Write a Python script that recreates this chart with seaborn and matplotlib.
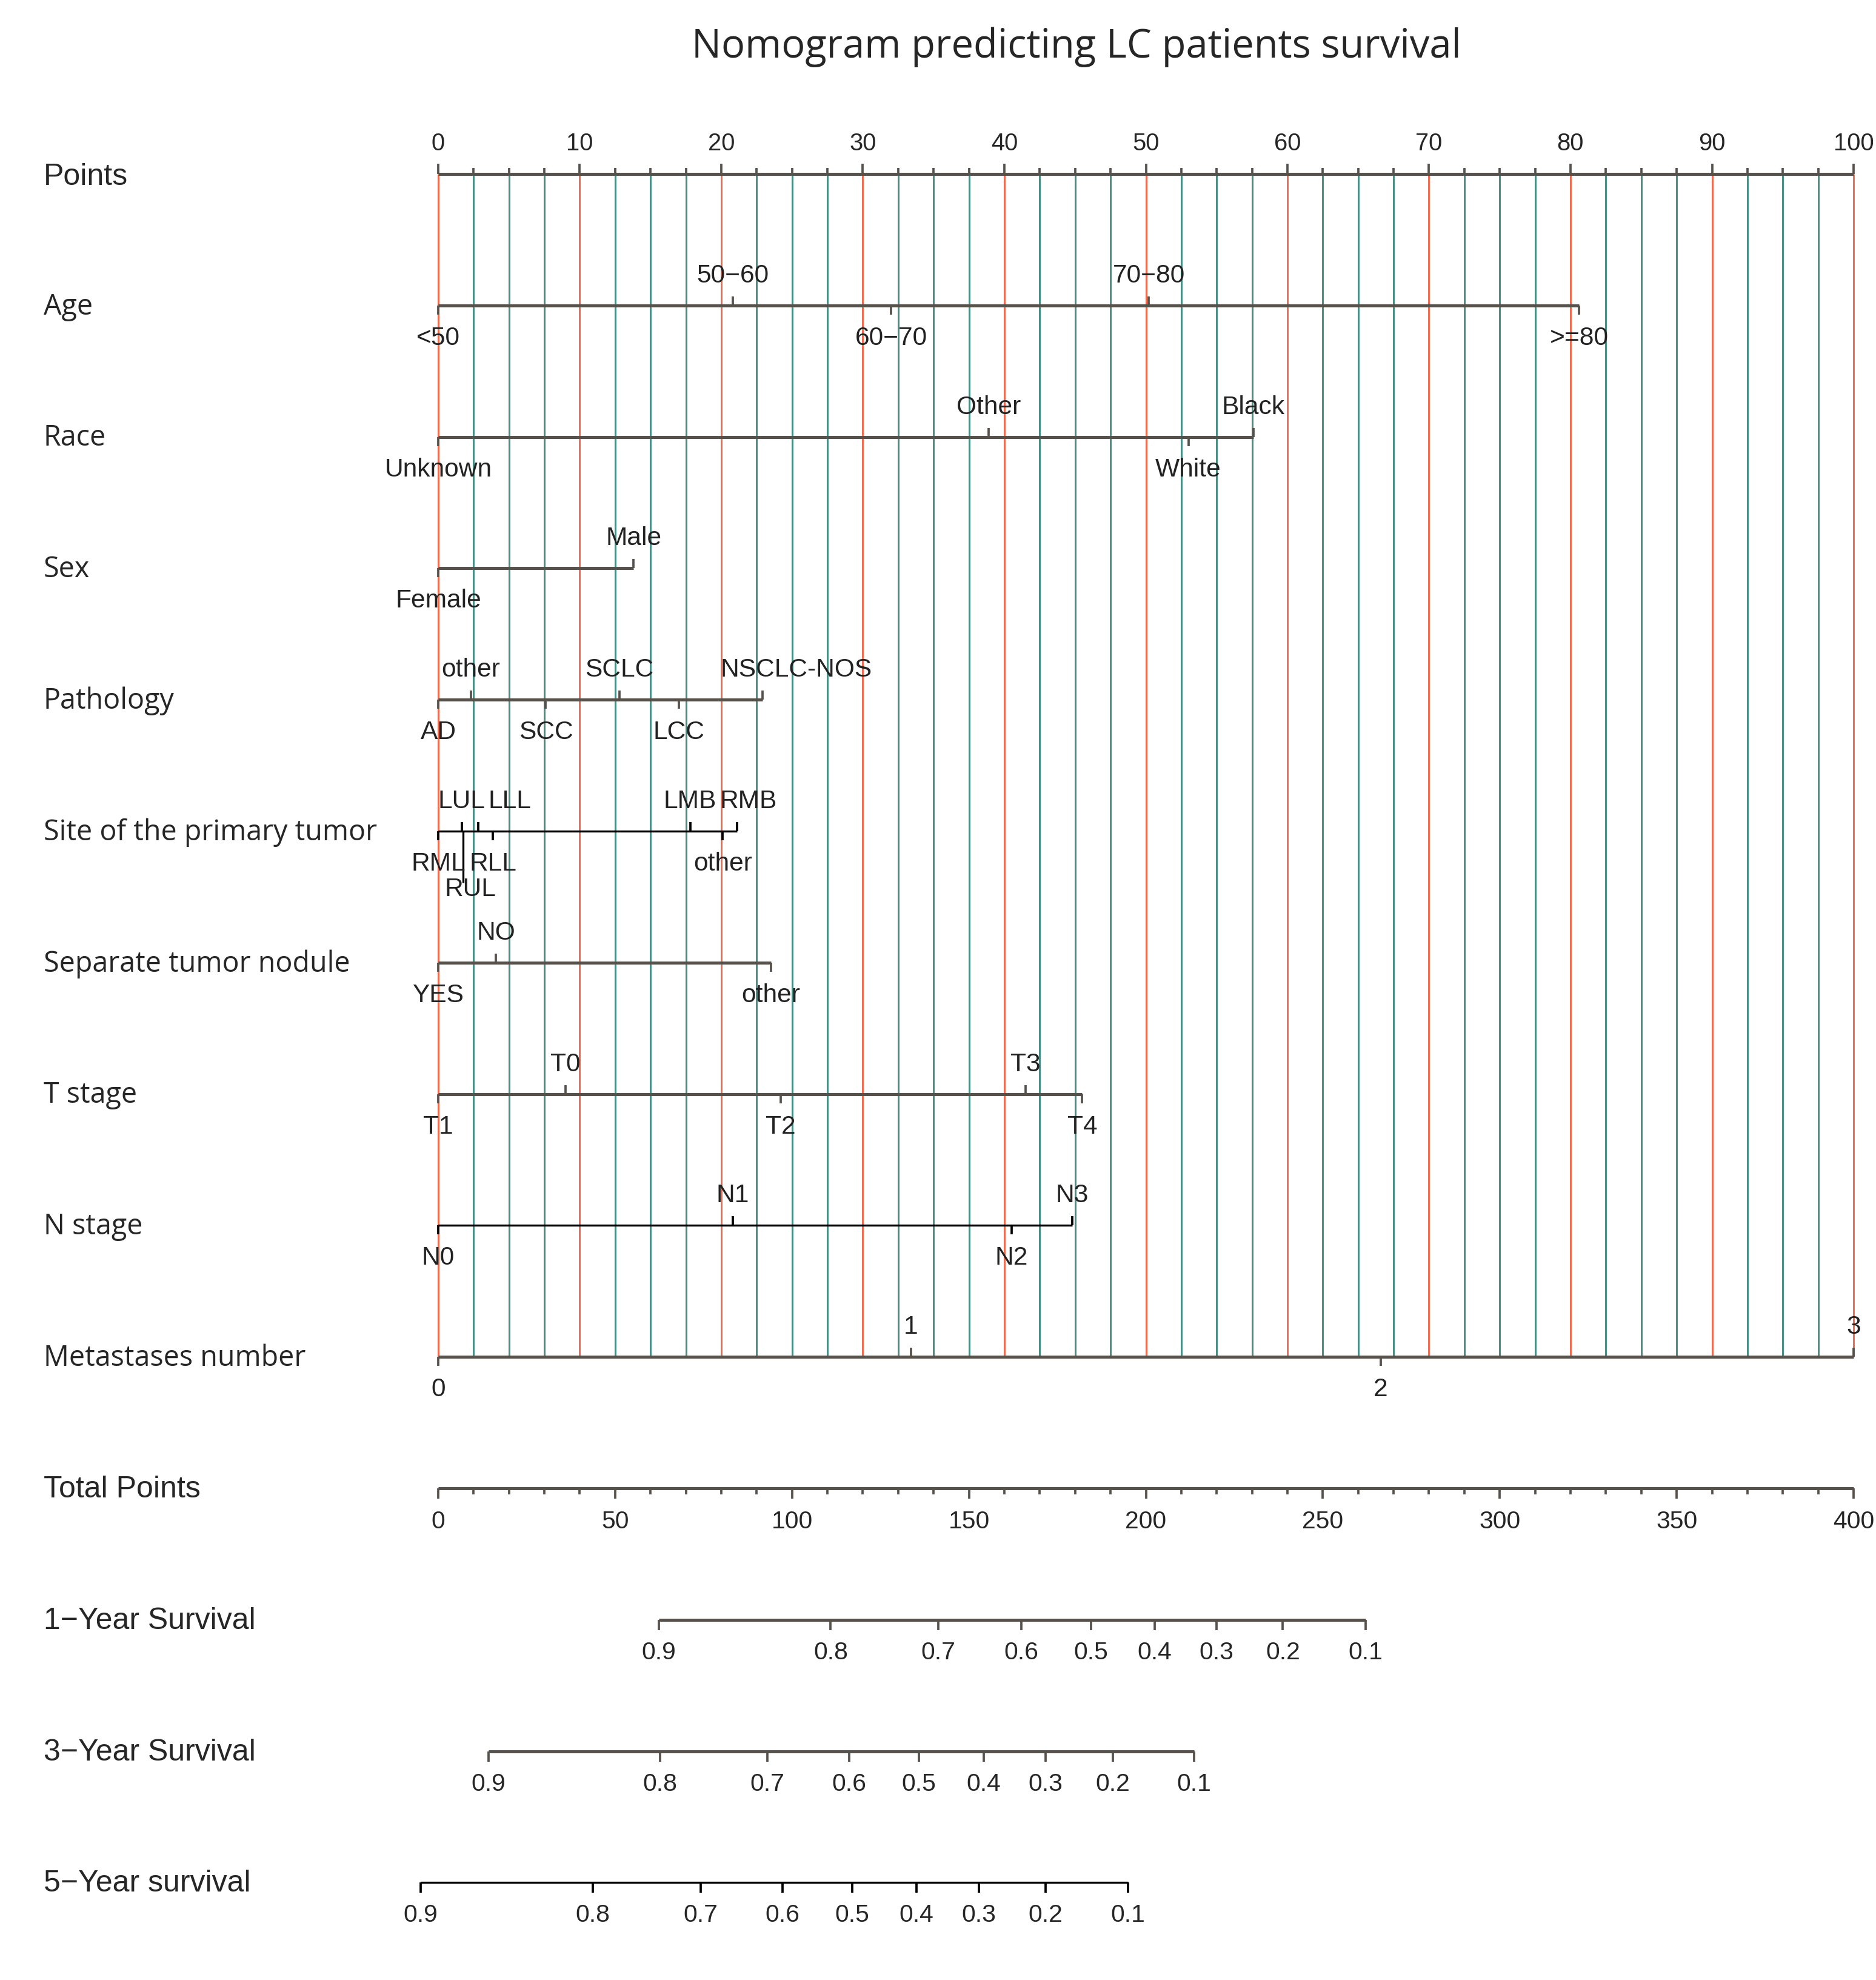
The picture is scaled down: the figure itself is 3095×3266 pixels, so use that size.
import numpy as np
import matplotlib.pyplot as plt
import seaborn as sns

# ---- data ----
title = 'Nomogram predicting LC patients survival'

points_ticks = [0, 10, 20, 30, 40, 50, 60, 70, 80, 90, 100]

age_levels = ['<50', '50\u221260', '60\u221270', '70\u221280', '>=80']
age_points = [0, 20.8, 32.0, 50.2, 80.6]

race_levels = ['Unknown', 'Other', 'White', 'Black']
race_points = [0, 38.9, 53.0, 57.6]

sex_levels = ['Female', 'Male']
sex_points = [0, 13.8]

path_levels = ['AD', 'other', 'SCC', 'SCLC', 'LCC', 'NSCLC-NOS']
path_points = [0, 2.3, 7.6, 12.8, 17.0, 22.9]

site_levels = ['RML', 'LUL', 'RUL', 'LLL', 'RLL', 'LMB', 'other', 'RMB']
site_points = [0, 1.65, 1.75, 2.83, 3.86, 17.8, 20.1, 21.1]

nodule_levels = ['YES', 'NO', 'other']
nodule_points = [0, 4.07, 23.5]

t_levels = ['T1', 'T0', 'T2', 'T3', 'T4']
t_points = [0, 9.0, 24.2, 41.5, 45.5]

n_levels = ['N0', 'N1', 'N2', 'N3']
n_points = [0, 20.8, 40.5, 44.8]

meta_levels = ['0', '1', '2', '3']
meta_points = [0, 33.4, 66.6, 100]

total_ticks = [0, 50, 100, 150, 200, 250, 300, 350, 400]

surv_ticks = ['0.9', '0.8', '0.7', '0.6', '0.5', '0.4', '0.3', '0.2', '0.1']
surv1_total = [62.3, 110.9, 141.3, 164.8, 184.5, 202.5, 219.9, 238.7, 262.1]
surv3_total = [14.2, 62.7, 93.0, 116.1, 135.8, 154.2, 171.6, 190.6, 213.6]
surv5_total = [-5.0, 43.7, 74.2, 97.3, 117.0, 135.2, 152.8, 171.6, 195.0]

# ---- layout (pixels of the 3095 x 3266 canvas) ----
W, H = 3095, 3266
X0, X100 = 723, 3058
PX = (X100 - X0) / 100.0
ROW0, ROWSTEP = 287, 216.8
UP, DOWN = 49, 54

sns.set_theme(style='white')
plt.rcParams['font.family'] = ['Liberation Sans', 'DejaVu Sans']

fig = plt.figure(figsize=(W / 300, H / 300), dpi=300)
ax = fig.add_axes([0, 0, 1, 1])
ax.set_xlim(-X0 / PX, 100 + (W - X100) / PX)
ax.set_ylim(H, 0)
ax.axis('off')

GREY = '#57514c'
RED = '#ee6a4e'
TEAL = '#458c82'

def row_y(i):
    return ROW0 + i * ROWSTEP

# vertical reference lines every 2.5 points
grid = np.arange(0, 100.01, 2.5)
for g in grid:
    is_major = abs(g / 10 - round(g / 10)) < 1e-9
    ax.vlines(g, row_y(0), row_y(9), colors=RED if is_major else TEAL,
              lw=0.7, zorder=1)

# row labels
seg_font = ['Open Sans', 'DejaVu Sans']
names_top = ['Age', 'Race', 'Sex', 'Pathology', 'Site of the primary tumor',
             'Separate tumor nodule', 'T stage', 'N stage', 'Metastases number']
lab_x = ax.get_xlim()[0] + 72 / PX
ax.text(lab_x, row_y(0) + 5, 'Points', fontsize=12, ha='left', va='center')
for i, nm in enumerate(names_top, start=1):
    ax.text(lab_x, row_y(i) + 2, nm, fontsize=11.2, ha='left', va='center',
            family=seg_font)
bottom_names = ['Total Points', '1\u2212Year Survival', '3\u2212Year Survival',
                '5\u2212Year survival']
for j, nm in enumerate(bottom_names):
    ax.text(lab_x, row_y(10 + j) + 2, nm, fontsize=12, ha='left', va='center')

# points axis
y = row_y(0)
ax.hlines(y, 0, 100, colors=GREY, lw=1.2, zorder=3)
for g in grid:
    major = g in points_ticks
    ax.vlines(g, y - (17 if major else 10), y, colors=GREY, lw=0.9, zorder=3)
for t in points_ticks:
    ax.text(t, y - 50, str(t), fontsize=9.6, ha='center', va='center')

# category axes
nudge = {('site', 'LLL'): (2.2, 0), ('site', 'RMB'): (0.8, 0),
         ('site', 'RUL'): (0.5, 42), ('path', 'NSCLC-NOS'): (2.4, 0)}
variables = [
    ('age', age_levels, age_points, 'thick'),
    ('race', race_levels, race_points, 'thick'),
    ('sex', sex_levels, sex_points, 'thick'),
    ('path', path_levels, path_points, 'thick'),
    ('site', site_levels, site_points, 'thin'),
    ('nodule', nodule_levels, nodule_points, 'thick'),
    ('t', t_levels, t_points, 'thick'),
    ('n', n_levels, n_points, 'thin'),
    ('meta', meta_levels, meta_points, 'thick'),
]
for i, (key, levels, pts, style) in enumerate(variables, start=1):
    y = row_y(i)
    col = GREY if style == 'thick' else 'black'
    lw = 1.2 if style == 'thick' else 0.8
    ax.hlines(y, min(pts), max(pts), colors=col, lw=lw, zorder=3)
    order = np.argsort(pts, kind='stable')
    for k, idx in enumerate(order):
        p, lab = pts[idx], levels[idx]
        dx, dy = nudge.get((key, lab), (0, 0))
        if k % 2 == 0:  # below
            if dy:
                ax.vlines(p, y, y + 85, colors='black', lw=0.8, zorder=3)
            else:
                ax.vlines(p, y, y + 15, colors=col, lw=0.9, zorder=3)
            ax.text(p + dx, y + DOWN + dy, lab, fontsize=10.2, ha='center',
                    va='center', color='#222222', zorder=4)
        else:  # above
            ax.vlines(p, y - 15, y, colors=col, lw=0.9, zorder=3)
            ax.text(p + dx, y - UP, lab, fontsize=10.2, ha='center',
                    va='center', color='#222222', zorder=4)

# total points axis (0-400 mapped onto 0-100)
y = row_y(10)
ax.hlines(y, 0, 100, colors=GREY, lw=1.2, zorder=3)
for v in np.arange(0, 401, 10):
    major = v in total_ticks
    ax.vlines(v / 4, y, y + (17 if major else 10), colors=GREY, lw=0.9, zorder=3)
for v in total_ticks:
    ax.text(v / 4, y + 55, str(v), fontsize=9.8, ha='center', va='center')

# survival axes
surv_rows = [(surv1_total, GREY, 1.2), (surv3_total, GREY, 1.2),
             (surv5_total, 'black', 0.8)]
for j, (tot, col, lw) in enumerate(surv_rows, start=11):
    y = row_y(j)
    xs = np.array(tot) / 4
    ax.hlines(y, xs.min(), xs.max(), colors=col, lw=lw, zorder=3)
    ax.vlines(xs, y, y + 17, colors=col, lw=0.9, zorder=3)
    for xv, lab in zip(xs, surv_ticks):
        ax.text(xv, y + 54, lab, fontsize=9.8, ha='center', va='center')

# title
ax.text((1776 - X0) / PX, 78, title, fontsize=15.6, ha='center', va='center',
        family=seg_font)

fig.savefig('out.png', dpi=300, facecolor='white')
